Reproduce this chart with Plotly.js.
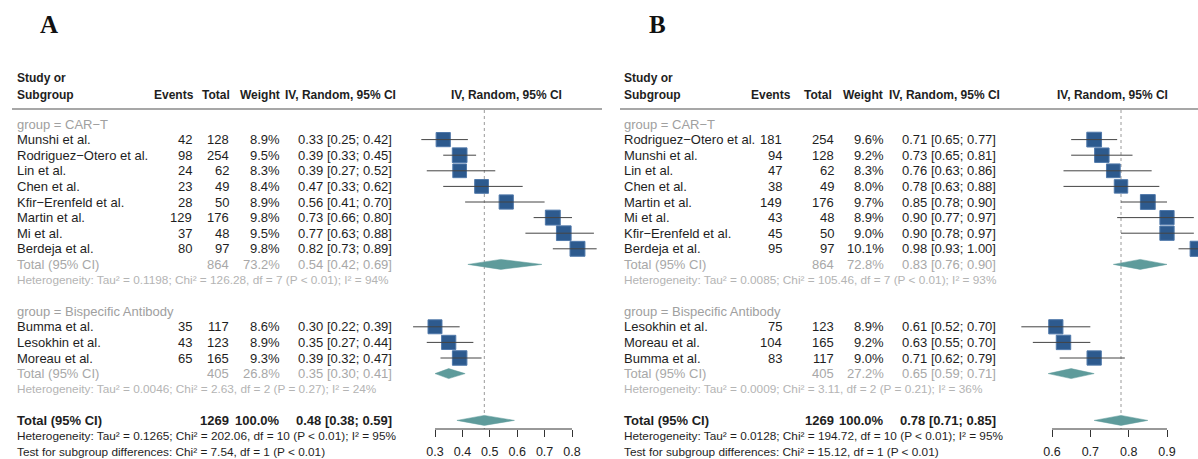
<!DOCTYPE html>
<html><head><meta charset="utf-8">
<script src="https://cdn.plot.ly/plotly-3.0.1.min.js"></script>
<style>html,body{margin:0;padding:0;background:#fff}#chart{width:1198px;height:459px}</style>
</head><body><div id="chart"></div>
<script>
// ================= DATA : PANEL A =================
const groupNames = ["CAR−T", "Bispecific Antibody"];

const carA_study  = ["Munshi et al.", "Rodriguez−Otero et al.", "Lin et al.", "Chen et al.", "Kfir−Erenfeld et al.", "Martin et al.", "Mi et al.", "Berdeja et al."];
const carA_events = [42, 98, 24, 23, 28, 129, 37, 80];
const carA_total  = [128, 254, 62, 49, 50, 176, 48, 97];
const carA_weight = [8.9, 9.5, 8.3, 8.4, 8.9, 9.8, 9.5, 9.8];
const carA_est    = [0.33, 0.39, 0.39, 0.47, 0.56, 0.73, 0.77, 0.82];
const carA_lo     = [0.25, 0.33, 0.27, 0.33, 0.41, 0.66, 0.63, 0.73];
const carA_hi     = [0.42, 0.45, 0.52, 0.62, 0.70, 0.80, 0.88, 0.89];

const bsA_study  = ["Bumma et al.", "Lesokhin et al.", "Moreau et al."];
const bsA_events = [35, 43, 65];
const bsA_total  = [117, 123, 165];
const bsA_weight = [8.6, 8.9, 9.3];
const bsA_est    = [0.30, 0.35, 0.39];
const bsA_lo     = [0.22, 0.27, 0.32];
const bsA_hi     = [0.39, 0.44, 0.47];

const subA_total  = [864, 405];
const subA_weight = [73.2, 26.8];
const subA_est    = [0.54, 0.35];
const subA_lo     = [0.42, 0.30];
const subA_hi     = [0.69, 0.41];
const subA_het    = ["Tau² = 0.1198; Chi² = 126.28, df = 7 (P < 0.01); I² = 94%",
                     "Tau² = 0.0046; Chi² = 2.63, df = 2 (P = 0.27); I² = 24%"];
const allA_values = [1269, 100.0, 0.48, 0.38, 0.59]; // total, weight, est, lo, hi
const allA_het  = "Tau² = 0.1265; Chi² = 202.06, df = 10 (P < 0.01); I² = 95%";
const allA_test = "Chi² = 7.54, df = 1 (P < 0.01)";
const ticksA = [0.3, 0.4, 0.5, 0.6, 0.7, 0.8];

// ================= DATA : PANEL B =================
const carB_study  = ["Rodriguez−Otero et al.", "Munshi et al.", "Lin et al.", "Chen et al.", "Martin et al.", "Mi et al.", "Kfir−Erenfeld et al.", "Berdeja et al."];
const carB_events = [181, 94, 47, 38, 149, 43, 45, 95];
const carB_total  = [254, 128, 62, 49, 176, 48, 50, 97];
const carB_weight = [9.6, 9.2, 8.3, 8.0, 9.7, 8.9, 9.0, 10.1];
const carB_est    = [0.71, 0.73, 0.76, 0.78, 0.85, 0.90, 0.90, 0.98];
const carB_lo     = [0.65, 0.65, 0.63, 0.63, 0.78, 0.77, 0.78, 0.93];
const carB_hi     = [0.77, 0.81, 0.86, 0.88, 0.90, 0.97, 0.97, 1.00];

const bsB_study  = ["Lesokhin et al.", "Moreau et al.", "Bumma et al."];
const bsB_events = [75, 104, 83];
const bsB_total  = [123, 165, 117];
const bsB_weight = [8.9, 9.2, 9.0];
const bsB_est    = [0.61, 0.63, 0.71];
const bsB_lo     = [0.52, 0.55, 0.62];
const bsB_hi     = [0.70, 0.70, 0.79];

const subB_total  = [864, 405];
const subB_weight = [72.8, 27.2];
const subB_est    = [0.83, 0.65];
const subB_lo     = [0.76, 0.59];
const subB_hi     = [0.90, 0.71];
const subB_het    = ["Tau² = 0.0085; Chi² = 105.46, df = 7 (P < 0.01); I² = 93%",
                     "Tau² = 0.0009; Chi² = 3.11, df = 2 (P = 0.21); I² = 36%"];
const allB_values = [1269, 100.0, 0.78, 0.71, 0.85];
const allB_het  = "Tau² = 0.0128; Chi² = 194.72, df = 10 (P < 0.01); I² = 95%";
const allB_test = "Chi² = 15.12, df = 1 (P < 0.01)";
const ticksB = [0.6, 0.7, 0.8, 0.9];

// ================= LAYOUT HELPERS =================
const W = 1198, H = 459;
const FONT = "Liberation Sans, Arial, Helvetica, sans-serif";
const ROW0 = 124, ROWH = 15.6;
const rowY = r => ROW0 + ROWH * r;
const AXIS_Y = 429;
const px = v => v / W;
const f2 = v => v.toFixed(2);
const ciTxt = (e, l, h) => f2(e) + " [" + f2(l) + "; " + f2(h) + "]";

const traces = [];
const shapes = [];
const annotations = [];
const layoutAxes = {};

function txt(x, y, text, anchor, opts) {
  opts = opts || {};
  annotations.push({
    xref: "paper", yref: "y", x: px(x), y: y, text: text,
    xanchor: anchor, yanchor: "middle", showarrow: false,
    font: {family: opts.family || FONT, size: opts.size || 13, color: opts.color || "#1e1e1e",
           weight: opts.bold ? "bold" : "normal"}
  });
}

function buildPanel(P) {
  const xa = P.axis;
  const axName = xa === "x" ? "xaxis" : "xaxis2";
  const t0 = P.ticks[0], t1 = P.ticks[P.ticks.length - 1];
  const scale = (P.tickPx1 - P.tickPx0) / (t1 - t0);
  const r0 = t0 + (P.dom0 - P.tickPx0) / scale;
  const r1 = t0 + (P.dom1 - P.tickPx0) / scale;
  layoutAxes[axName] = {
    domain: [px(P.dom0), px(P.dom1)], range: [r0, r1],
    anchor: "free", position: 1 - AXIS_Y / H,
    showgrid: false, zeroline: false, showline: false,
    ticks: "outside", ticklen: 7, tickwidth: 1, tickcolor: "#333",
    tickvals: P.ticks, ticktext: P.ticks.map(v => String(v)),
    tickfont: {family: FONT, size: 12.5, color: "#222"},
    ticklabelstandoff: 4, fixedrange: true
  };
  shapes.push({type: "line", xref: xa, yref: "y", x0: t0, x1: t1, y0: AXIS_Y, y1: AXIS_Y,
               line: {color: "#333", width: 1}});
  const c = P.cols, h = P.head;
  const hb = {size: 12, bold: true};
  txt(c.name, 78, "Study or", "left", hb);
  txt(c.name, 95, "Subgroup", "left", hb);
  txt(h.ev, 95, "Events", "right", hb);
  txt(h.tot, 95, "Total", "right", hb);
  txt(h.w, 95, "Weight", "right", hb);
  txt(h.ci, 95, "IV, Random, 95% CI", "right", hb);
  txt(P.plotHead, 95, "IV, Random, 95% CI", "center", hb);
  shapes.push({type: "line", xref: "paper", yref: "y", x0: px(P.line0), x1: px(P.line1), y0: 109, y1: 109,
               line: {color: "#8a8a8a", width: 1.5}});
  txt(P.letterX, 24, P.letter, "center",
      {family: "Liberation Serif, Times New Roman, serif", size: 25, color: "#111", bold: true});

  const ciX = [], ciY = [], sqX = [], sqY = [], sqS = [];
  let r = 0;
  P.groups.forEach((g, gi) => {
    txt(c.name, rowY(r), "group = " + groupNames[gi], "left", {color: "#a0a0a0"});
    r++;
    g.study.forEach((s, i) => {
      const y = rowY(r);
      txt(c.name, y, s, "left");
      txt(c.ev, y, String(g.events[i]), "right");
      txt(c.tot, y, String(g.total[i]), "right");
      txt(c.w, y, g.weight[i].toFixed(1) + "%", "right");
      txt(c.ci, y, ciTxt(g.est[i], g.lo[i], g.hi[i]), "right");
      ciX.push(g.lo[i], g.hi[i], null); ciY.push(y, y, null);
      sqX.push(g.est[i]); sqY.push(y); sqS.push(14.2 * Math.sqrt(g.weight[i] / 8.9));
      r++;
    });
    let y = rowY(r);
    const gray = "#a8a8a8";
    txt(c.name, y, "Total (95% CI)", "left", {color: gray});
    txt(c.tot, y, String(P.sub.total[gi]), "right", {color: gray});
    txt(c.w, y, P.sub.weight[gi].toFixed(1) + "%", "right", {color: gray});
    txt(c.ci, y, ciTxt(P.sub.est[gi], P.sub.lo[gi], P.sub.hi[gi]), "right", {color: gray});
    diamond(xa, P.sub.est[gi], P.sub.lo[gi], P.sub.hi[gi], y);
    r++;
    txt(c.name, rowY(r), "Heterogeneity: " + P.sub.het[gi], "left", {color: "#b4b4b4", size: 11.8});
    r += 2;
  });
  const [oT, oW, oE, oL, oH] = P.all;
  let y = rowY(r);
  txt(c.name, y, "Total (95% CI)", "left", {bold: true});
  txt(c.tot, y, String(oT), "right", {bold: true});
  txt(c.w, y, oW.toFixed(1) + "%", "right", {bold: true});
  txt(c.ci, y, ciTxt(oE, oL, oH), "right", {bold: true});
  diamond(xa, oE, oL, oH, y);
  r++;
  txt(c.name, rowY(r), "Heterogeneity: " + P.het, "left", {size: 11.8});
  r++;
  txt(c.name, rowY(r), "Test for subgroup differences: " + P.test, "left", {size: 11.8});
  shapes.push({type: "line", xref: xa, yref: "y", x0: oE, x1: oE, y0: 110, y1: AXIS_Y,
               line: {color: "#9a9a9a", width: 1, dash: "dot"}, layer: "below"});
  traces.push({type: "scatter", mode: "markers", xaxis: xa, yaxis: "y", x: sqX, y: sqY,
               marker: {symbol: "square", size: sqS, color: "#2d5a8e", opacity: 1, line: {color: "#4f78aa", width: 1}},
               hoverinfo: "skip", showlegend: false});
  traces.push({type: "scatter", mode: "lines", xaxis: xa, yaxis: "y", x: ciX, y: ciY,
               line: {color: "#444", width: 1}, hoverinfo: "skip", showlegend: false});
}

function diamond(xa, e, l, h, y) {
  const hh = 5;
  traces.push({type: "scatter", mode: "lines", xaxis: xa, yaxis: "y",
               x: [l, e, h, e, l], y: [y, y - hh, y, y + hh, y], fill: "toself",
               fillcolor: "#5e9b9b", line: {color: "#5e9b9b", width: 0.5},
               hoverinfo: "skip", showlegend: false});
}

buildPanel({
  axis: "x", letter: "A", letterX: 49, ticks: ticksA, tickPx0: 435, tickPx1: 572, dom0: 400, dom1: 602,
  cols: {name: 15, ev: 194, tot: 231, w: 282, ci: 394},
  head: {ev: 196, tot: 232, w: 282, ci: 398},
  plotHead: 506, line0: 12, line1: 602,
  groups: [
    {study: carA_study, events: carA_events, total: carA_total, weight: carA_weight, est: carA_est, lo: carA_lo, hi: carA_hi},
    {study: bsA_study, events: bsA_events, total: bsA_total, weight: bsA_weight, est: bsA_est, lo: bsA_lo, hi: bsA_hi}
  ],
  sub: {total: subA_total, weight: subA_weight, est: subA_est, lo: subA_lo, hi: subA_hi, het: subA_het},
  all: allA_values, het: allA_het, test: allA_test
});

buildPanel({
  axis: "x2", letter: "B", letterX: 657, ticks: ticksB, tickPx0: 1052, tickPx1: 1167, dom0: 1000, dom1: 1198,
  cols: {name: 622, ev: 784, tot: 836, w: 886, ci: 998},
  head: {ev: 793, tot: 834, w: 885, ci: 1002},
  plotHead: 1112, line0: 620, line1: 1198,
  groups: [
    {study: carB_study, events: carB_events, total: carB_total, weight: carB_weight, est: carB_est, lo: carB_lo, hi: carB_hi},
    {study: bsB_study, events: bsB_events, total: bsB_total, weight: bsB_weight, est: bsB_est, lo: bsB_lo, hi: bsB_hi}
  ],
  sub: {total: subB_total, weight: subB_weight, est: subB_est, lo: subB_lo, hi: subB_hi, het: subB_het},
  all: allB_values, het: allB_het, test: allB_test
});

const layout = Object.assign({
  width: W, height: H, margin: {l: 0, r: 0, t: 0, b: 0},
  paper_bgcolor: "#fff", plot_bgcolor: "rgba(0,0,0,0)",
  showlegend: false,
  yaxis: {domain: [0, 1], range: [H, 0], visible: false, anchor: "x", fixedrange: true},
  shapes: shapes, annotations: annotations
}, layoutAxes);

Plotly.newPlot("chart", traces, layout, {staticPlot: true, displayModeBar: false});
</script>
</body></html>
